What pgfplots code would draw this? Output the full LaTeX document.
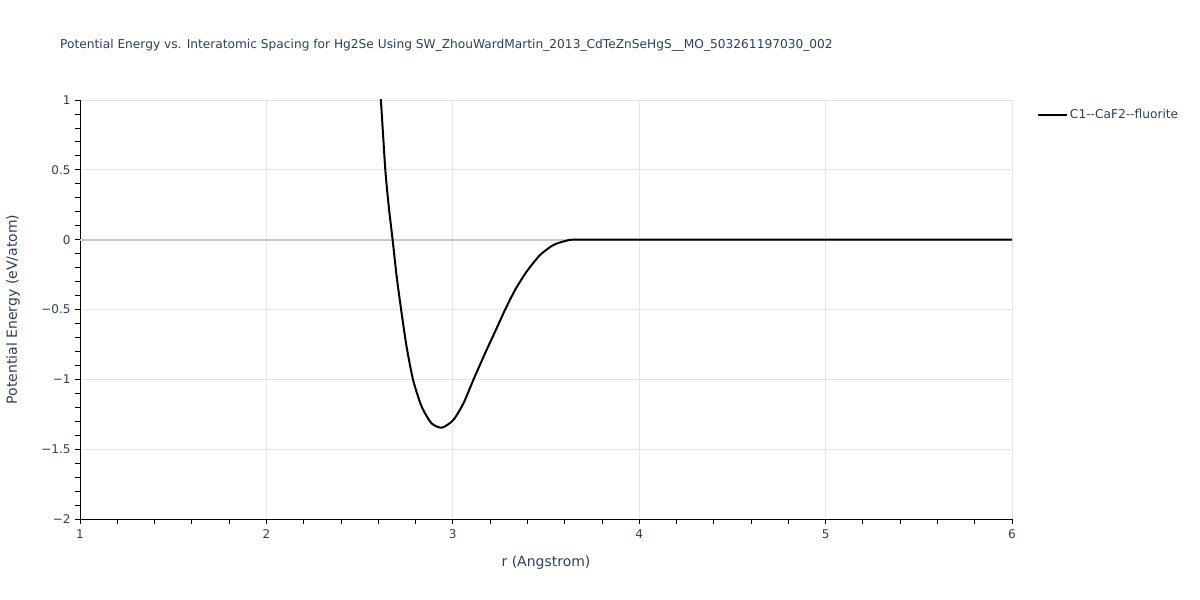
\documentclass[border=0pt]{standalone}
\usepackage{pgfplots}
\pgfplotsset{compat=1.18}
\usepackage{fontspec}
\setmainfont{DejaVu Sans}
\definecolor{txt}{HTML}{2A3F5F}
\definecolor{gridc}{HTML}{E5E5E5}
\definecolor{zeroc}{HTML}{C8C8C8}
\begin{document}
\begin{tikzpicture}[x=1bp,y=1bp]
\path[use as bounding box] (0,0) rectangle (1200,600);
\node[anchor=base west, text=txt, font=\fontsize{12.2bp}{14bp}\selectfont, inner sep=0] at (60,551) {Potential Energy vs. Interatomic Spacing for Hg2Se Using SW\_ZhouWardMartin\_2013\_CdTeZnSeHgS\_\_MO\_503261197030\_002};
\begin{axis}[
  at={(80bp,81bp)}, anchor=south west,
  scale only axis, width=932bp, height=419bp,
  xmin=1, xmax=6, ymin=-2, ymax=1,
  xtick={1,2,3,4,5,6}, ytick={-2,-1.5,-1,-0.5,0,0.5,1},
  yticklabels={−2,−1.5,−1,−0.5,0,0.5,1},
  minor x tick num=4, minor y tick num=4,
  axis lines*=left,
  axis line style={black, line width=0.8bp},
  major tick length=5bp, minor tick length=5bp,
  tick style={black, line width=0.8bp},
  tick align=outside,
  grid=major, major grid style={gridc, line width=0.9bp},
  tick label style={text=txt, font=\fontsize{12bp}{14bp}\selectfont},
  /pgf/number format/assume math mode=true,
  xticklabel style={yshift=-2bp},
  yticklabel style={xshift=-1bp},
  xlabel={r (Angstrom)}, ylabel={Potential Energy (eV/atom)},
  label style={text=txt, font=\fontsize{14bp}{16bp}\selectfont},
  xlabel style={at={(axis description cs:0.5,0)}, anchor=center, yshift=-44bp},
  ylabel style={at={(axis description cs:0,0.5)}, anchor=center, yshift=67bp},
  legend style={at={(1.0268,0.9642)}, anchor=west, draw=none, fill=none,
    font=\fontsize{12.2bp}{14bp}\selectfont, text=txt, inner sep=0pt, outer sep=0pt},
  legend cell align=left,
  legend image code/.code={\draw[#1, line width=2bp] (0bp,0bp) -- (29bp,0bp);},
]
\addplot[zeroc, line width=2bp, forget plot] coordinates {(1,0) (6,0)};
\addplot[black, line width=2bp, smooth, tension=0.4] coordinates {
(2.605,1.08) (2.614,1.0) (2.638,0.499) (2.657,0.23) (2.677,0.0) (2.699,-0.265) (2.723,-0.503)
(2.752,-0.766) (2.787,-1.005) (2.833,-1.196) (2.886,-1.315) (2.942,-1.346)
(3.003,-1.291) (3.057,-1.172) (3.11,-1.005) (3.173,-0.814) (3.235,-0.635)
(3.28,-0.503) (3.334,-0.36) (3.396,-0.229) (3.468,-0.11) (3.54,-0.038)
(3.611,-0.007) (3.66,0.0) (4.0,0.0) (5.0,0.0) (6.0,0.0)
};
\addlegendentry{C1{-}{-}CaF2{-}{-}fluorite}
\end{axis}
\end{tikzpicture}
\end{document}
